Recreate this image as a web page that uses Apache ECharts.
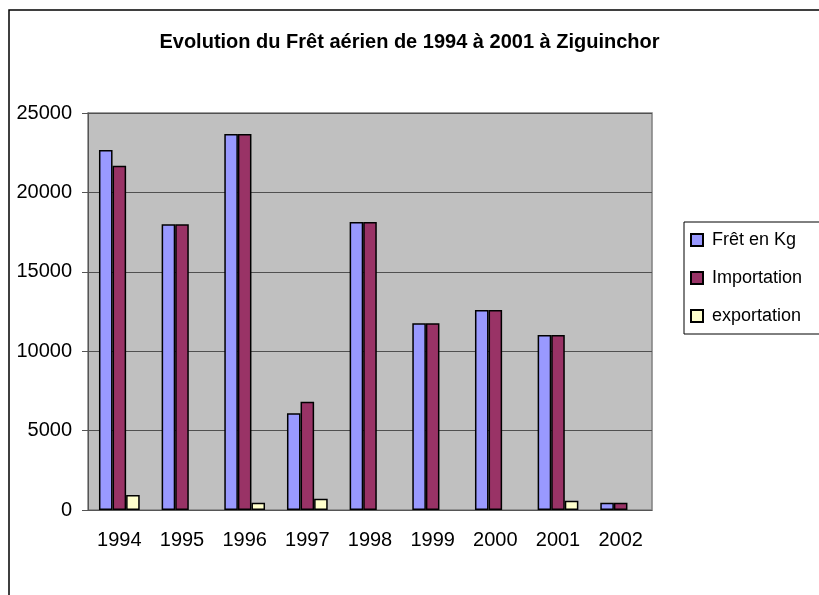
<!DOCTYPE html>
<html>
<head>
<meta charset="utf-8">
<script src="https://cdn.jsdelivr.net/npm/echarts@6/dist/echarts.min.js"></script>
<style>
html, body {margin: 0; padding: 0; background: #fff;}
#chart {width: 819px; height: 595px;}
</style>
</head>
<body>
<div id="chart"></div>
<script>
var years = ['1994', '1995', '1996', '1997', '1998', '1999', '2000', '2001', '2002'];
var fret = [22670, 18000, 23680, 6090, 18140, 11760, 12590, 11020, 460];
var importation = [21680, 18000, 23680, 6820, 18140, 11760, 12590, 11020, 460];
var exportation = [950, '-', 460, 710, '-', '-', '-', 590, '-'];
var seriesNames = ['Frêt en Kg', 'Importation', 'exportation'];

var chart = echarts.init(document.getElementById('chart'));

var barStyle = function (c) {
    return {color: c, borderColor: '#000', borderWidth: 1.5};
};

var option = {
    animation: false,
    textStyle: {fontFamily: 'Liberation Sans, Arial, sans-serif'},
    title: {
        text: 'Evolution du Frêt aérien de 1994 à 2001 à Ziguinchor',
        left: 'center',
        top: 27,
        textStyle: {fontSize: 20, fontWeight: 'bold', color: '#000', fontFamily: 'Liberation Sans, Arial, sans-serif'}
    },
    // cadre du graphique et cadre de la légende
    graphic: [
        {type: 'rect', shape: {x: 9, y: 10, width: 830, height: 600}, style: {fill: null, stroke: '#000', lineWidth: 1.5}, silent: true},
        {type: 'rect', shape: {x: 684, y: 222, width: 150, height: 112}, style: {fill: '#fff', stroke: '#000', lineWidth: 1}, silent: true}
    ],
    legend: {
        orient: 'vertical',
        left: 685,
        top: 226,
        itemWidth: 12,
        itemHeight: 12,
        itemGap: 20,
        icon: 'rect',
        data: seriesNames,
        textStyle: {fontSize: 18, color: '#000', padding: [0, 0, 0, 4]}
    },
    grid: {
        left: 88, top: 113, right: 167, bottom: 85,
        show: true,
        backgroundColor: '#c0c0c0',
        borderColor: '#808080',
        borderWidth: 1.5
    },
    xAxis: {
        type: 'category',
        data: years,
        axisLine: {lineStyle: {color: '#555', width: 1}},
        axisTick: {length: 6, lineStyle: {color: '#555'}},
        axisLabel: {fontSize: 20, color: '#000', margin: 20}
    },
    yAxis: {
        type: 'value',
        min: 0,
        max: 25000,
        interval: 5000,
        axisLine: {show: true, lineStyle: {color: '#555', width: 1}},
        axisTick: {show: true, length: 6, lineStyle: {color: '#555'}},
        axisLabel: {fontSize: 20, color: '#000', margin: 16, formatter: function (v) { return String(v); }},
        splitLine: {lineStyle: {color: '#505050', width: 1}}
    },
    series: [
        {name: seriesNames[0], type: 'bar', data: fret, barGap: '0%', barCategoryGap: '35%', itemStyle: barStyle('#9999ff')},
        {name: seriesNames[1], type: 'bar', data: importation, barGap: '0%', barCategoryGap: '35%', itemStyle: barStyle('#993366')},
        {name: seriesNames[2], type: 'bar', data: exportation, barGap: '0%', barCategoryGap: '35%', itemStyle: barStyle('#ffffcc')}
    ]
};
chart.setOption(option);
</script>
</body>
</html>
